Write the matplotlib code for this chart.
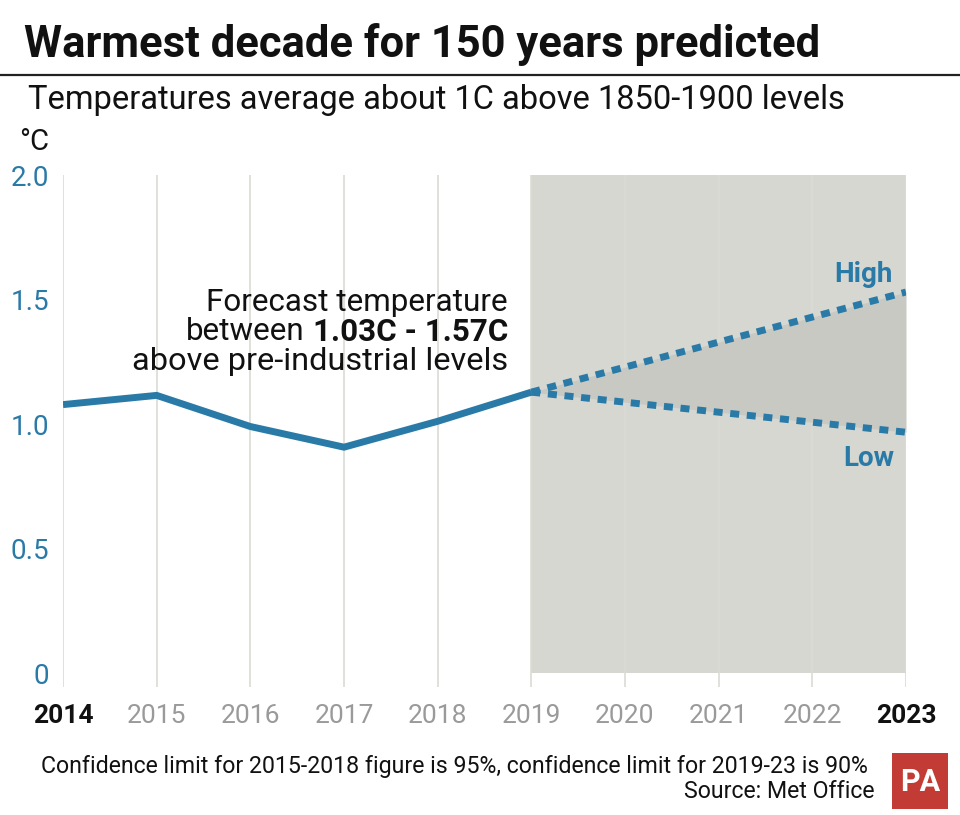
import numpy as np
import matplotlib
matplotlib.use("Agg")
import matplotlib.pyplot as plt
from matplotlib.patches import Rectangle
from matplotlib.lines import Line2D

plt.rcParams['font.family'] = ['Roboto', 'DejaVu Sans']

# data
years = [2014, 2015, 2016, 2017, 2018, 2019]
temps = [1.078, 1.115, 0.99, 0.907, 1.011, 1.128]
forecast_years = [2019, 2023]
forecast_high = [1.128, 1.53]
forecast_low = [1.128, 0.967]
all_years = list(range(2014, 2024))
year_labels = [str(y) for y in all_years]
yticks = [0, 0.5, 1.0, 1.5, 2.0]
ytick_labels = ["0", "0.5", "1.0", "1.5", "2.0"]

BLUE = "#2a7aa8"
SHADE = "#d6d7d1"
FAN = "#c9c9c3"
GRID = "#dcdbd5"

W, H = 960, 815
fig = plt.figure(figsize=(W / 100, H / 100), dpi=100)

def fx(x):
    return x / W

def fy(y):
    return 1 - y / H

# axes placed so 2014 -> x=63, 2023 -> x=906, 2.0 -> y=175
ax = fig.add_axes([fx(63), fy(687), fx(906) - fx(63), fy(175) - fy(687)])
ax.set_xlim(2014, 2023)
ax.set_ylim(-0.056, 2.0)
for s in ax.spines.values():
    s.set_visible(False)

# forecast shaded period
ax.fill_between([2019, 2023], 0, 2.0, color=SHADE, lw=0, zorder=0)
# vertical grid lines
for yr in all_years:
    ax.axvline(yr, color=GRID, lw=1.2, zorder=1)
# fan between high/low
ax.fill_between(forecast_years, forecast_low, forecast_high, color=FAN, lw=0, zorder=2)

ax.plot(years, temps, color=BLUE, lw=5, solid_joinstyle="miter", solid_capstyle="butt", zorder=4)
ax.plot(forecast_years, forecast_high, color=BLUE, lw=5, linestyle=(0, (1.3, 1.1)),
        dash_capstyle="butt", zorder=4)
ax.plot(forecast_years, forecast_low, color=BLUE, lw=5, linestyle=(0, (1.3, 1.1)),
        dash_capstyle="butt", zorder=4)

ax.set_yticks(yticks)
ax.set_yticklabels(ytick_labels, color=BLUE, fontsize=20)
ax.set_xticks(all_years)
ax.set_xticklabels(year_labels, fontsize=19, color="#9a9a9a")
for lab in ax.get_xticklabels():
    if lab.get_text() in ("2014", "2023"):
        lab.set_color("#111111")
        lab.set_fontweight("bold")
ax.tick_params(axis="both", length=0)
ax.tick_params(axis="y", pad=10)
ax.tick_params(axis="x", pad=12)

ax.text(2022.55, 1.6, "High", color=BLUE, fontsize=20, fontweight="bold", ha="center", va="center")
ax.text(2022.6, 0.86, "Low", color=BLUE, fontsize=20, fontweight="bold", ha="center", va="center")

# header
title = fig.text(fx(24), fy(45), "Warmest decade for 150 years predicted", fontsize=30,
                 fontweight="bold", color="#111111", va="center", ha="left")
fig.add_artist(Line2D([0, 1], [fy(75), fy(75)], color="#222222", lw=1.6))
subtitle = fig.text(fx(28), fy(100), "Temperatures average about 1C above 1850-1900 levels",
                    fontsize=20, color="#111111", va="center", ha="left")
fig.text(fx(19), fy(142), "°C", fontsize=21, color="#111111", va="center", ha="left")

# annotation
ann1 = fig.text(fx(508), fy(302), "Forecast temperature", fontsize=19, color="#111111",
                ha="right", va="center")
ann2b = fig.text(fx(508), fy(332), "1.03C - 1.57C", fontsize=19, color="#111111",
                 fontweight="bold", ha="right", va="center")
ann3 = fig.text(fx(508), fy(362), "above pre-industrial levels", fontsize=19, color="#111111",
                ha="right", va="center")

# footer
foot1 = fig.text(fx(868), fy(766),
                 "Confidence limit for 2015-2018 figure is 95%, confidence limit for 2019-23 is 90%",
                 fontsize=14, color="#111111", ha="right", va="center")
foot2 = fig.text(fx(875), fy(792), "Source: Met Office", fontsize=14, color="#111111",
                 ha="right", va="center")
fig.add_artist(Rectangle((fx(892), fy(809)), fx(948) - fx(892), fy(753) - fy(809),
                         transform=fig.transFigure, color="#c33b35", lw=0))
fig.text(fx(920), fy(782), "PA", fontsize=22, color="white", fontweight="bold",
         ha="center", va="center")

# fit header/footer text widths to the reference
fig.canvas.draw()
r = fig.canvas.get_renderer()
for t, target in [(title, 794), (subtitle, 817), (ann1, 301), (ann3, 375), (foot1, 835)]:
    w = t.get_window_extent(r).width
    t.set_fontsize(t.get_fontsize() * target / w)
ann2b.set_fontsize(ann1.get_fontsize())
foot2.set_fontsize(foot1.get_fontsize())
fig.canvas.draw()
bb = ann2b.get_window_extent(r)
gap = 0.26 * ann1.get_fontsize() * 100 / 72
fig.text(fx(bb.x0 - gap), fy(332), "between", fontsize=ann1.get_fontsize(), color="#111111",
         ha="right", va="center")

fig.savefig("out.png", dpi=100)
